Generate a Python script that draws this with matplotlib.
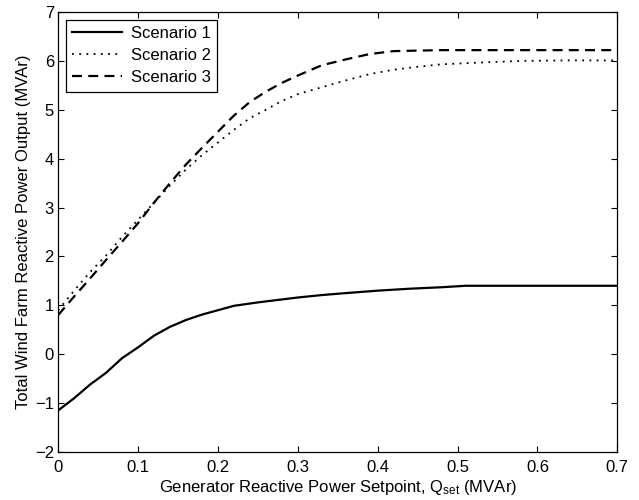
import matplotlib
matplotlib.use("Agg")
import numpy as np
import matplotlib.pyplot as plt

plt.rcParams['font.family'] = ['Liberation Sans', 'DejaVu Sans']
plt.rcParams['mathtext.default'] = 'regular'

# setpoint grid (MVAr) and wind farm reactive output for each scenario
q_set_1 = [0, 0.02, 0.04, 0.06, 0.08, 0.10, 0.12, 0.14, 0.16, 0.18, 0.20, 0.22,
           0.25, 0.28, 0.30, 0.33, 0.36, 0.40, 0.44, 0.48, 0.51, 0.55, 0.60, 0.65, 0.70]
q_out_1 = [-1.15, -0.90, -0.62, -0.38, -0.08, 0.14, 0.38, 0.56, 0.70, 0.81, 0.90, 0.99,
           1.06, 1.12, 1.16, 1.21, 1.25, 1.30, 1.34, 1.37, 1.40, 1.40, 1.40, 1.40, 1.40]

q_set_2 = [0, 0.02, 0.04, 0.06, 0.08, 0.10, 0.12, 0.14, 0.16, 0.18, 0.20, 0.22, 0.24,
           0.26, 0.28, 0.30, 0.33, 0.36, 0.39, 0.42, 0.45, 0.48, 0.52, 0.58, 0.64, 0.70]
q_out_2 = [0.90, 1.30, 1.68, 2.02, 2.40, 2.75, 3.10, 3.45, 3.78, 4.07, 4.33, 4.59, 4.83,
           5.00, 5.18, 5.32, 5.46, 5.60, 5.73, 5.82, 5.88, 5.93, 5.96, 6.00, 6.01, 6.01]

q_set_3 = [0, 0.02, 0.04, 0.06, 0.08, 0.10, 0.12, 0.14, 0.16, 0.18, 0.20, 0.22, 0.24,
           0.26, 0.28, 0.30, 0.33, 0.36, 0.39, 0.42, 0.45, 0.48, 0.55, 0.62, 0.70]
q_out_3 = [0.80, 1.18, 1.55, 1.93, 2.30, 2.68, 3.10, 3.50, 3.88, 4.22, 4.55, 4.88, 5.16,
           5.37, 5.55, 5.70, 5.91, 6.03, 6.14, 6.20, 6.21, 6.22, 6.22, 6.22, 6.22]

fig = plt.figure(figsize=(6.39, 5.0), dpi=100)
ax = fig.add_axes([0.091, 0.096, 0.875, 0.880])

ax.plot(q_set_1, q_out_1, color='black', lw=1.6, label='Scenario 1')
ax.plot(q_set_2, q_out_2, color='black', lw=1.3, linestyle=(0, (1, 3)), label='Scenario 2')
ax.plot(q_set_3, q_out_3, color='black', lw=1.6, linestyle=(0, (4.5, 2.8)), label='Scenario 3')

ax.set_xlim(0, 0.7)
ax.set_ylim(-2, 7)
ax.set_xticks(np.arange(0, 0.71, 0.1))
ax.set_xticklabels(['0', '0.1', '0.2', '0.3', '0.4', '0.5', '0.6', '0.7'])
ax.set_yticks(range(-2, 8))
ax.tick_params(direction='in', top=True, right=True, labelsize=12, length=4, width=0.8)
ax.tick_params(axis='x', pad=6)
ax.tick_params(axis='y', pad=3)
for sp in ax.spines.values():
    sp.set_linewidth(0.9)

ax.set_xlabel('Generator Reactive Power Setpoint, $Q_{set}$ (MVAr)', fontsize=12, labelpad=2)
ax.set_ylabel('Total Wind Farm Reactive Power Output (MVAr)', fontsize=12, labelpad=3)

leg = ax.legend(loc='upper left', fontsize=12, fancybox=False, framealpha=1,
                edgecolor='black', handlelength=3.0, handletextpad=0.5, borderpad=0.4,
                labelspacing=0.42, borderaxespad=0.45)
leg.get_frame().set_linewidth(0.9)

plt.savefig('out.png', dpi=100)
plt.close()
